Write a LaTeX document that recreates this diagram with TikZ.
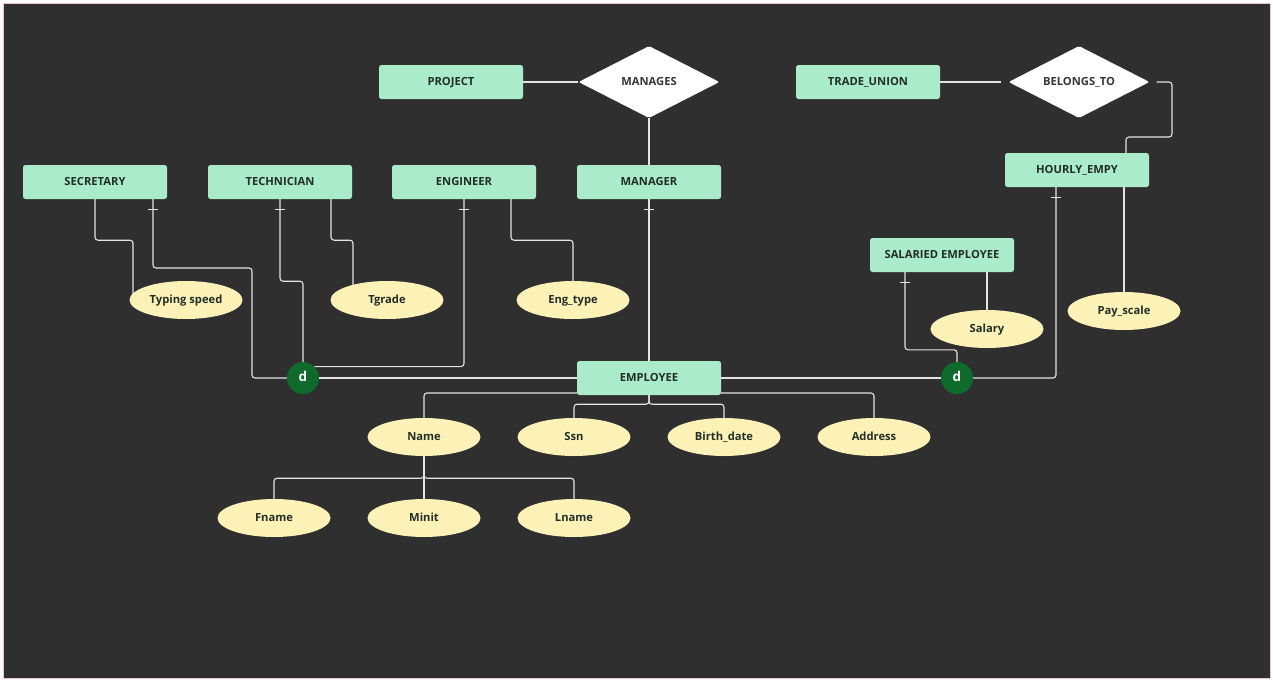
\documentclass[tikz,border=0pt]{standalone}
\usepackage{fontspec}
\setmainfont{Open Sans}
\usetikzlibrary{positioning,calc,shapes.geometric,backgrounds}
\definecolor{canvas}{RGB}{47,47,47}
\definecolor{mint}{RGB}{170,236,202}
\definecolor{cream}{RGB}{252,242,184}
\definecolor{dgreen}{RGB}{14,107,44}
\definecolor{ink}{RGB}{34,46,38}
\definecolor{wire}{RGB}{228,228,228}
\definecolor{frame}{RGB}{238,196,206}

\begin{document}
\begin{tikzpicture}[x=1pt,y=-1pt,font=\fontsize{11.2}{13}\selectfont\bfseries,
  every node/.style={text height=1.55ex,text depth=0.3ex}]
\tikzset{entity/.style={fill=mint,text=ink,rounded corners=2.5pt,minimum width=144pt,minimum height=34pt,inner sep=0pt}}
\tikzset{attr/.style={ellipse,fill=cream,text=ink,minimum width=113pt,minimum height=38pt,inner sep=0pt}}
\tikzset{rel/.style={diamond,aspect=2,fill=white,text=black!78,rounded corners=1.5pt,minimum width=141pt,minimum height=72pt,inner sep=0pt}}
\tikzset{disj/.style={circle,fill=dgreen,text=white,minimum size=32pt,inner sep=0pt,font=\fontsize{13.5}{14}\selectfont\bfseries}}
\tikzset{link/.style={draw=wire,line width=1.1pt,rounded corners=3pt}}
\useasboundingbox (0,0) rectangle (1273,681);
\begin{scope}[on background layer]
  \fill[white] (0,0) rectangle (1273,681);
  \draw[frame,fill=canvas,line width=1pt] (3,3) rectangle (1270,678);
\end{scope}
% relationships
\node[entity] (proj) at (451,82) {PROJECT};
\node[rel] (manages) at (649,82) {MANAGES};
\node[entity] (trade) at (868,82) {TRADE\_UNION};
\node[rel] (belongs) at (1079,82) {BELONGS\_TO};
% subclasses
\def\yS{182}
\node[entity] (sec) at (95,\yS) {SECRETARY};
\node[entity] (tech) at (280,\yS) {TECHNICIAN};
\node[entity] (eng) at (464,\yS) {ENGINEER};
\node[entity] (mgr) at (649,\yS) {MANAGER};
\node[entity] (hourly) at (1077,170) {HOURLY\_EMPY};
\node[entity] (sal) at (942,255) {SALARIED EMPLOYEE};
% local attributes
\node[attr] (typ) at (186,300) {Typing speed};
\node[attr] (tgr) at (387,300) {Tgrade};
\node[attr] (engt) at (573,300) {Eng\_type};
\node[attr] (salary) at (987,329) {Salary};
\node[attr] (pay) at (1124,311) {Pay\_scale};
% superclass
\node[entity] (emp) at (649,378) {EMPLOYEE};
\node[disj] (d1) at (303,378) {d};
\node[disj] (d2) at (957,378) {d};
\foreach \x/\n/\t in {424/name/Name, 574/ssn/Ssn, 724/bdate/Birth\_date, 874/addr/Address}
  \node[attr] (\n) at (\x,437) {\t};
\foreach \x/\n/\t in {274/fname/Fname, 424/minit/Minit, 574/lname/Lname}
  \node[attr] (\n) at (\x,518) {\t};
\begin{scope}[on background layer]
% relationship links
\draw[link] (proj.east) -- (manages.west);
\draw[link] (manages.south) -- (mgr.north);
\draw[link] (trade.east) -- ([xshift=-7pt]belongs.west);
\draw[link] ([xshift=7pt]belongs.east) -| (1172,137) -| ([xshift=49pt]hourly.north);
% attribute links
\draw[link] (sec.south) -- ++(0,41) -| ([xshift=-53pt]typ.center);
\draw[link] ([xshift=51pt]tech.south) -- ++(0,41) -| ([xshift=-34pt]tgr.center);
\draw[link] ([xshift=47pt]eng.south) -- ++(0,41) -| (engt.north);
\draw[link] ([xshift=45pt]sal.south) -- (salary.north);
\draw[link] ([xshift=47pt]hourly.south) -- (pay.north);
% specialisation
\draw[link] ([xshift=58pt]sec.south) |- (252,268) |- (d1.west);
\draw[link] (tech.south) -- ++(0,82) -| (d1.north);
\draw[link] (eng.south) |- (d1.45);
\draw[link] (d1.east) -- (emp.west);
\draw[link] (mgr.south) -- (emp.north);
\draw[link] (emp.east) -- (d2.west);
\draw[link] (d2.east) -| ([xshift=-21pt]hourly.south);
\draw[link] (d2.north) -- ++(0,-12) -| ([xshift=-37pt]sal.south);
\foreach \n/\dx in {sec/58, tech/0, eng/0, mgr/0, hourly/-21, sal/-37}
  \draw[link] ([xshift={\dx pt-5pt},yshift=-10pt]\n.south) -- ++(10,0);
% employee attributes
\draw[link] ([yshift=-15pt]emp.west) -| (name.north);
\draw[link] ([yshift=-15pt]emp.east) -| (addr.north);
\draw[link] (emp.south) -- ++(0,9) -| (ssn.north);
\draw[link] (emp.south) -- ++(0,9) -| (bdate.north);
\draw[link] (name.south) -- ++(0,22) -| (fname.north);
\draw[link] (name.south) -- ++(0,22) -| (lname.north);
\draw[link] (name.south) -- (minit.north);
\end{scope}
\end{tikzpicture}
\end{document}
